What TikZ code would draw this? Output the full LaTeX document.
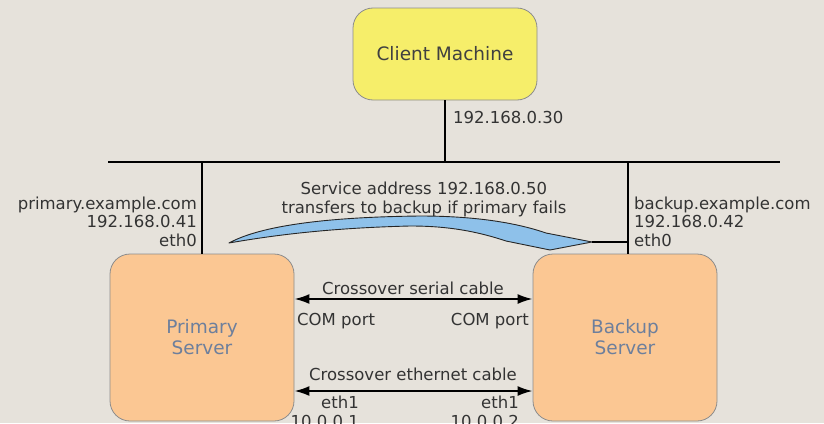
\documentclass[tikz,border=0pt]{standalone}
\usepackage{fontspec}
\setmainfont{DejaVu Sans}
\usetikzlibrary{arrows.meta}
\definecolor{bg}{HTML}{E6E2DB}
\definecolor{clientfill}{HTML}{F6EE6A}
\definecolor{serverfill}{HTML}{FBC793}
\definecolor{swoosh}{HTML}{8EC1EA}
\definecolor{boxtext}{HTML}{6D7F9C}
\definecolor{labeltext}{HTML}{333333}
\tikzset{
  boxbase/.style={draw=black!45, line width=0.8pt, rounded corners=20pt, inner sep=0pt, align=center},
  clientbox/.style={boxbase, fill=clientfill, minimum width=184pt, minimum height=92pt, text=black!75, font=\fontsize{18.5}{21}\selectfont},
  serverbox/.style={boxbase, fill=serverfill, minimum width=184pt, minimum height=167pt, text=boxtext, font=\fontsize{18.5}{21}\selectfont},
  lbl/.style={inner sep=0pt, text=labeltext, font=\fontsize{16.5}{18.5}\selectfont},
  wire/.style={line width=2pt, black},
  cable/.style={line width=2pt, black, {Latex[length=15pt,width=10pt]}-{Latex[length=15pt,width=10pt]}},
}
\begin{document}
\begin{tikzpicture}[x=1pt,y=-1pt]
\fill[bg] (0,0) rectangle (824,423);
\useasboundingbox (0,0) rectangle (824,423);

% boxes
\node[clientbox] (client) at (445,54) {Client Machine};
\node[serverbox] (primary) at (202,337.5) {Primary\\Server};
\node[serverbox] (backup) at (625,337.5) {Backup\\Server};

% bus
\coordinate (busL) at (108,162);
\coordinate (busR) at (780,162);
\coordinate (bdrop) at (628,162);
\draw[line width=2.4pt] (busL) -- (busR);
\draw[wire] (client.south) -- (client.south |- busL);
\draw[wire] (primary.north |- busL) -- (primary.north);
\draw[wire] (bdrop) -- (bdrop |- backup.north);

% labels on network
\node[lbl, anchor=west] (clientip) at (453,117) {192.168.0.30};
\node[lbl, anchor=east, align=right] (plabel) at (197,221.5) {primary.example.com\\192.168.0.41\\eth0};
\node[lbl, anchor=west, align=left] (blabel) at (634,221.5) {backup.example.com\\192.168.0.42\\eth0};
\node[lbl, align=center] (service) at (424,199.5) {Service address 192.168.0.50\\transfers to backup if primary fails};

% swoosh arrow
\filldraw[fill=swoosh, draw=black!85, line width=0.9pt, line join=round]
  (229,243) .. controls (262,225) and (330,217) .. (420,216)
  .. controls (480,216) and (520,224) .. (546,233)
  -- (592,242) -- (550,250) -- (506,241)
  .. controls (470,229) and (440,226) .. (410,226)
  .. controls (330,228) and (275,235) .. (229,243) -- cycle;
\coordinate (tip) at (592,242);
\draw[line width=1.2pt] (tip) -- (tip -| bdrop);

% serial cable
\draw[cable] ([yshift=38.5pt]primary.east) -- ([yshift=38.5pt]backup.west);
\node[lbl] (serial) at (413,288) {Crossover serial cable};
\node[lbl, anchor=west] (com1) at (297,321) {COM port};
\node[lbl, anchor=east] (com2) at (529,321) {COM port};

% ethernet cable
\draw[cable] ([yshift=-53.5pt]primary.east) -- ([yshift=-53.5pt]backup.west);
\node[lbl] (ether) at (413,374) {Crossover ethernet cable};
\node[lbl, anchor=east, align=right] (eth1a) at (359,412) {eth1\\10.0.0.1};
\node[lbl, anchor=east, align=right] (eth1b) at (519,412) {eth1\\10.0.0.2};
\end{tikzpicture}
\end{document}
